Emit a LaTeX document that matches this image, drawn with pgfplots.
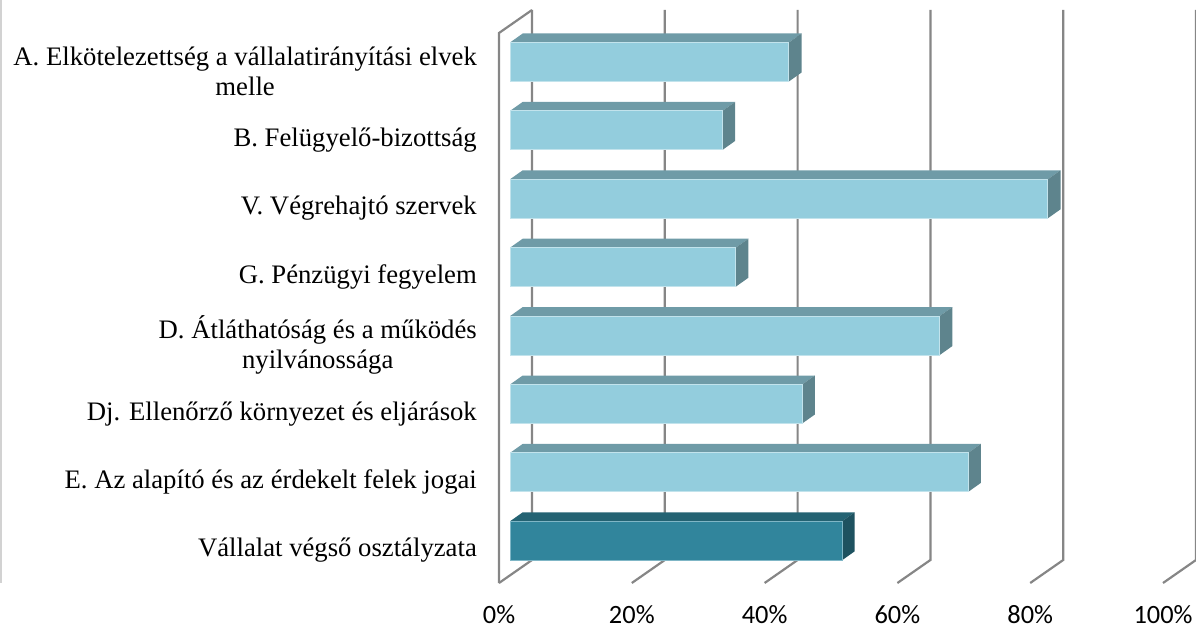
\documentclass[border=0pt]{standalone}
\usepackage{pgfplots}
\pgfplotsset{compat=1.18}
\usepackage{fontspec}
\setmainfont{Liberation Serif}
\newfontfamily\calib{Carlito}
\definecolor{lfront}{HTML}{93CDDD}
\definecolor{ltop}{HTML}{6F9BA7}
\definecolor{lside}{HTML}{5E848D}
\definecolor{ledge}{HTML}{C2E3EC}
\definecolor{dfront}{HTML}{31859C}
\definecolor{dtop}{HTML}{246373}
\definecolor{dside}{HTML}{1E5260}
\definecolor{dedge}{HTML}{7FB6C6}
\definecolor{gridc}{HTML}{868686}
\begin{document}
\begin{tikzpicture}
\useasboundingbox (0,0) rectangle (1196bp,629bp);
\begin{axis}[
  at={(0,0)}, anchor=south west,
  scale only axis, width=1196bp, height=629bp,
  xmin=-76.807, xmax=103.313, ymin=0, ymax=629, y dir=reverse,
  axis line style={draw=none}, tick style={draw=none},
  clip=false,
  xtick={-1.657,18.343,38.343,58.343,78.343,98.343},
  xticklabels={0\%,20\%,40\%,60\%,80\%,100\%},
  xticklabel style={font=\calib\fontsize{26.5}{30}\selectfont, anchor=center, yshift=14bp},
  ytick={69.7,138.1,206.5,274.9,343.3,411.7,480.1,548.5},
  yticklabels={{A. Elkötelezettség a vállalatirányítási elvek\\melle},
    {B. Felügyelő-bizottság},
    {V. Végrehajtó szervek},
    {G. Pénzügyi fegyelem},
    {D. Átláthatóság és a működés\\nyilvánossága},
    {Dj. Ellenőrző környezet és eljárások},
    {E. Az alapító és az érdekelt felek jogai},
    {Vállalat végső osztályzata}},
  yticklabel style={font=\fontsize{26.8}{30}\selectfont, align=center, anchor=east, inner sep=0pt, xshift=477bp, yshift=-2bp},
]
% chart border
\addplot[draw=gray!35, line width=1.2bp] coordinates {(-76.66,0) (-76.66,583)};
% back wall gridlines and floor
\addplot[gridc, line width=2.2bp] coordinates {(3.313,10) (3.313,560) (-1.657,583)};
\addplot[gridc, line width=2.2bp] coordinates {(23.313,10) (23.313,560) (18.343,583)};
\addplot[gridc, line width=2.2bp] coordinates {(43.313,10) (43.313,560) (38.343,583)};
\addplot[gridc, line width=2.2bp] coordinates {(63.313,10) (63.313,560) (58.343,583)};
\addplot[gridc, line width=2.2bp] coordinates {(83.313,10) (83.313,560) (78.343,583)};
\addplot[gridc, line width=2.2bp] coordinates {(103.313,10) (103.313,560) (98.343,583)};
% left wall
\addplot[gridc, line width=2.2bp] coordinates {(3.313,10) (-1.657,33) (-1.657,583)};
% ---- bars: top faces ----
\addplot[fill=ltop, draw=none] coordinates {(0,42.5) (42,42.5) (43.913,33.5) (1.913,33.5)};
\addplot[fill=ltop, draw=none] coordinates {(0,110.9) (32,110.9) (33.913,101.9) (1.913,101.9)};
\addplot[fill=ltop, draw=none] coordinates {(0,179.3) (81,179.3) (82.913,170.3) (1.913,170.3)};
\addplot[fill=ltop, draw=none] coordinates {(0,247.7) (34,247.7) (35.913,238.7) (1.913,238.7)};
\addplot[fill=ltop, draw=none] coordinates {(0,316.1) (64.7,316.1) (66.613,307.1) (1.913,307.1)};
\addplot[fill=ltop, draw=none] coordinates {(0,384.5) (44,384.5) (45.913,375.5) (1.913,375.5)};
\addplot[fill=ltop, draw=none] coordinates {(0,452.9) (69,452.9) (70.913,443.9) (1.913,443.9)};
\addplot[fill=dtop, draw=none] coordinates {(0,521.3) (50,521.3) (51.913,512.3) (1.913,512.3)};
% ---- bars: side faces ----
\addplot[fill=lside, draw=none] coordinates {(42,42.5) (43.913,33.5) (43.913,72.5) (42,81.5)};
\addplot[fill=lside, draw=none] coordinates {(32,110.9) (33.913,101.9) (33.913,140.9) (32,149.9)};
\addplot[fill=lside, draw=none] coordinates {(81,179.3) (82.913,170.3) (82.913,209.3) (81,218.3)};
\addplot[fill=lside, draw=none] coordinates {(34,247.7) (35.913,238.7) (35.913,277.7) (34,286.7)};
\addplot[fill=lside, draw=none] coordinates {(64.7,316.1) (66.613,307.1) (66.613,346.1) (64.7,355.1)};
\addplot[fill=lside, draw=none] coordinates {(44,384.5) (45.913,375.5) (45.913,414.5) (44,423.5)};
\addplot[fill=lside, draw=none] coordinates {(69,452.9) (70.913,443.9) (70.913,482.9) (69,491.9)};
\addplot[fill=dside, draw=none] coordinates {(50,521.3) (51.913,512.3) (51.913,551.3) (50,560.3)};
% ---- bars: front faces (values) ----
\addplot[xbar, bar width=39, fill=lfront, draw=ledge, line width=1bp] coordinates {
  (42,62) (32,130.4) (81,198.8) (34,267.2) (64.7,335.6) (44,404) (69,472.4)};
\addplot[xbar, bar width=39, fill=dfront, draw=dedge, line width=1bp] coordinates {(50,540.8)};
\end{axis}
\end{tikzpicture}
\end{document}
